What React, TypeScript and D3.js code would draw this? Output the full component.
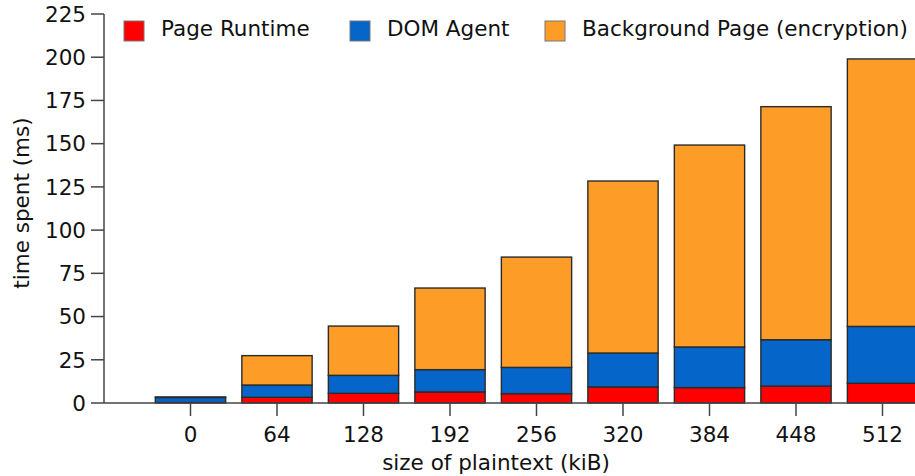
import React from "react";
import * as d3 from "d3";

const sizes = [0, 64, 128, 192, 256, 320, 384, 448, 512];
const pageRuntime = [0.3, 3.3, 5.6, 6.4, 5.4, 9.3, 8.9, 9.8, 11.4];
const domAgent = [2.9, 7.1, 10.4, 12.9, 15.2, 19.6, 23.5, 26.8, 32.9];
const backgroundPage = [0.3, 17.0, 28.5, 47.2, 63.8, 99.5, 116.8, 134.8, 154.7];
const seriesNames = ["Page Runtime", "DOM Agent", "Background Page (encryption)"];
const seriesColors = ["#ff0000", "#0565c9", "#fd9d28"];
const yTicks = [0, 25, 50, 75, 100, 125, 150, 175, 200, 225];

const W = 915;
const H = 476;
const FONT = "DejaVu Sans, sans-serif";
const FS = 21.5;

export default function App() {
  const x = d3.scaleLinear().domain([-64, 576]).range([104, 969]);
  const y = d3.scaleLinear().domain([0, 225]).range([403, 14]);
  const halfW = 26;

  const rows = sizes.map((s, i) => ({
    size: s,
    pr: pageRuntime[i],
    dom: domAgent[i],
    bg: backgroundPage[i],
  }));
  const stack = d3.stack<any>().keys(["pr", "dom", "bg"])(rows);

  const legendX = [124, 350, 545];

  return (
    <svg width={W} height={H} style={{ position: "absolute", left: 0, top: 0 }} fontFamily={FONT}>
      {stack.map((layer, li) => (
        <g key={li}>
          {layer.map((d, i) => (
            <rect
              key={i}
              x={x(sizes[i] - halfW)}
              width={x(halfW) - x(-halfW)}
              y={y(d[1])}
              height={Math.max(0, y(d[0]) - y(d[1]))}
              fill={seriesColors[li]}
              stroke="#2b2b2b"
              strokeWidth={1.4}
            />
          ))}
        </g>
      ))}
      {/* y axis */}
      <line x1={104} x2={104} y1={y(225)} y2={y(0)} stroke="#444" strokeWidth={1.5} />
      {yTicks.map((t) => (
        <g key={t}>
          <line x1={91} x2={104} y1={y(t)} y2={y(t)} stroke="#444" strokeWidth={1.5} />
          <text x={86} y={y(t)} dy="0.36em" textAnchor="end" fontSize={FS} fill="#111">
            {t}
          </text>
        </g>
      ))}
      {/* x axis */}
      <line x1={104} x2={W} y1={y(0)} y2={y(0)} stroke="#444" strokeWidth={1.5} />
      {sizes.map((s) => (
        <g key={s}>
          <line x1={x(s)} x2={x(s)} y1={y(0)} y2={y(0) + 13} stroke="#444" strokeWidth={1.5} />
          <text x={x(s)} y={442} textAnchor="middle" fontSize={FS} fill="#111">
            {s}
          </text>
        </g>
      ))}
      <text x={496} y={470} textAnchor="middle" fontSize={FS} fill="#111">
        size of plaintext (kiB)
      </text>
      <text
        transform={`translate(29, 203) rotate(-90)`}
        textAnchor="middle"
        fontSize={FS}
        fill="#111"
      >
        time spent (ms)
      </text>
      {/* legend */}
      {seriesNames.map((n, i) => (
        <g key={n}>
          <rect x={legendX[i]} y={21} width={20} height={20} fill={seriesColors[i]} stroke="#777" strokeWidth={1} />
          <text x={legendX[i] + 37} y={36} fontSize={FS} fill="#111">
            {n}
          </text>
        </g>
      ))}
    </svg>
  );
}
